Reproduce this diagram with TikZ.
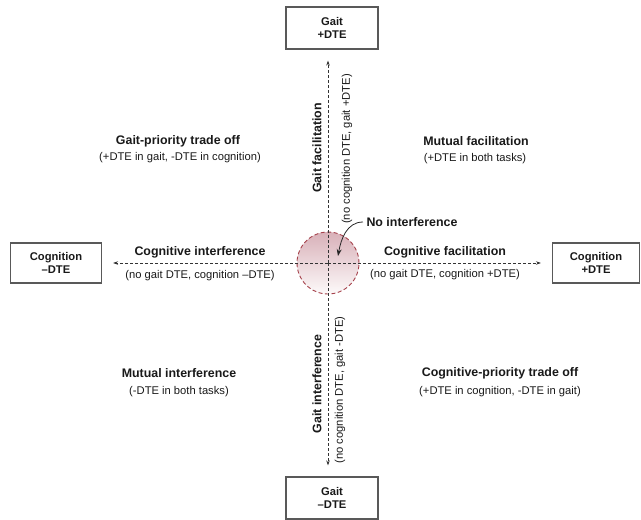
\documentclass[tikz,border=0pt]{standalone}
\usepackage{fontspec}
\setmainfont{Liberation Sans}
\usetikzlibrary{arrows.meta}
\definecolor{ringred}{RGB}{165,65,75}
\definecolor{ringtop}{RGB}{216,176,184}
\definecolor{ringbot}{RGB}{253,250,250}
\begin{document}
\begin{tikzpicture}[x=1pt,y=-1pt,
    statebox/.style={draw=black!65, line width=1.1pt, minimum width=92pt, minimum height=42pt,
      inner sep=0pt, align=center, text=black!90, font=\fontsize{11.2}{13}\selectfont\bfseries},
    dteaxis/.style={draw=black!80, line width=0.8pt, dash pattern=on 3pt off 2pt,
      -{Stealth[length=5pt,width=3.5pt]}, shorten >=11pt},
    qtitle/.style={text=black!90, font=\fontsize{12.4}{14}\selectfont\bfseries},
    qnote/.style={text=black!90, font=\fontsize{11.2}{13}\selectfont}]
    \useasboundingbox (0,0) rectangle (641,520);
    \node[statebox](gaitpos)at(332,28){Gait\\+DTE};
    \node[statebox](gaitneg)at(332,498){Gait\\–DTE};
    \node[statebox, minimum width=91pt, minimum height=40pt](cogneg)at(56,263){Cognition\\–DTE};
    \node[statebox, minimum width=87pt, minimum height=40pt](cogpos)at(596,263){Cognition\\+DTE};
    \node[circle, minimum size=62pt, inner sep=0pt, draw=ringred, line width=0.9pt,
      dash pattern=on 4pt off 2.5pt, top color=ringtop, bottom color=ringbot](nointer)at(328,263){};
    \draw[dteaxis](nointer.center)--(nointer.center |- gaitpos.south);
    \draw[dteaxis](nointer.center)--(nointer.center |- gaitneg.north);
    \draw[dteaxis](nointer.center)--(nointer.center -| cogneg.east);
    \draw[dteaxis](nointer.center)--(nointer.center -| cogpos.west);
    \node[qtitle, rotate=90](gaitfac)at(317,148){Gait facilitation};
    \node[qnote, rotate=90](gaitfacnote)at(347,149){(no cognition DTE, gait +DTE)};
    \node[qtitle, rotate=90](gaitint)at(317,384){Gait interference};
    \node[qnote, rotate=90](gaitintnote)at(340,390){(no cognition DTE, gait -DTE)};
    \node[qtitle](gaitprio)at(178,141){Gait-priority trade off};
    \node[qnote](gaitprionote)at(180,158){(+DTE in gait, -DTE in cognition)};
    \node[qtitle](mutfac)at(476,141){Mutual facilitation};
    \node[qnote](mutfacnote)at(475,159){(+DTE in both tasks)};
    \node[qtitle](cogint)at(200,252){Cognitive interference};
    \node[qnote](cogintnote)at(200,276){(no gait DTE, cognition –DTE)};
    \node[qtitle](cogfac)at(445,252){Cognitive facilitation};
    \node[qnote](cogfacnote)at(445,275){(no gait DTE, cognition +DTE)};
    \node[qtitle](mutint)at(179,373){Mutual interference};
    \node[qnote](mutintnote)at(179,392){(-DTE in both tasks)};
    \node[qtitle](cogprio)at(500,373){Cognitive-priority trade off};
    \node[qnote](cogprionote)at(500,392){(+DTE in cognition, -DTE in gait)};
    \node[qtitle](noint)at(412,222){No interference};
    \coordinate(nointtip)at(338,256);
    \draw[black!85, line width=0.8pt, -{Stealth[length=7pt,width=5pt]}](noint.west)to[out=180,in=80](nointtip);
\end{tikzpicture}
\end{document}
